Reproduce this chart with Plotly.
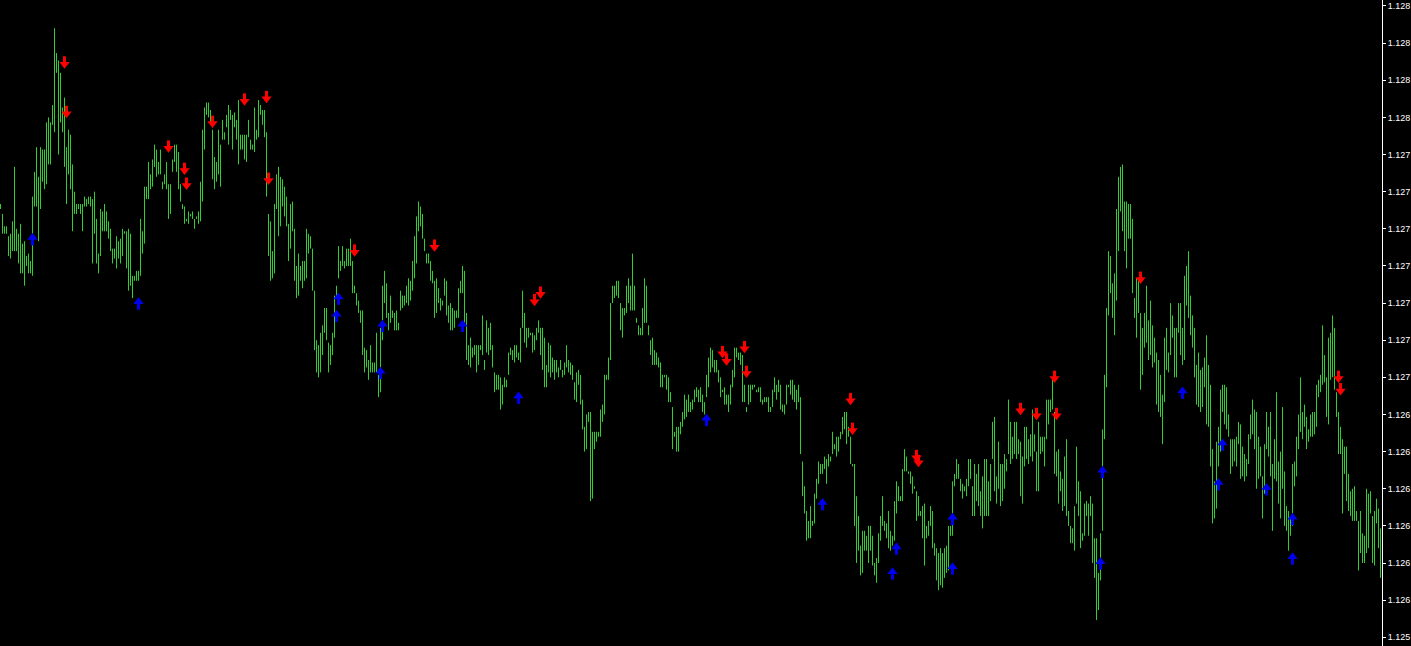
import plotly.graph_objects as go

# price = BASE + pts * POINT  (in points above 1.12500)
BASE = 1.125
POINT = 0.00001

HIGH_PTS = [
    220, 216, 211, 211, 207, 208, 213, 235, 210, 208, 212, 204, 205, 199, 200, 197, 223, 233, 243, 231,
    243, 242, 242, 253, 255, 253, 260, 291, 281, 278, 273, 259, 263, 243, 250, 248, 236, 225, 220, 220,
    220, 220, 223, 222, 223, 223, 222, 225, 214, 200, 218, 217, 220, 217, 213, 210, 202, 202, 207, 205,
    206, 210, 209, 209, 210, 208, 191, 191, 193, 193, 214, 209, 227, 227, 237, 232, 238, 244, 242, 237,
    242, 229, 232, 237, 228, 228, 238, 244, 244, 241, 228, 220, 219, 214, 217, 216, 217, 214, 215, 217,
    229, 250, 259, 261, 261, 258, 250, 239, 237, 250, 244, 254, 249, 256, 260, 258, 256, 257, 254, 262,
    248, 248, 248, 248, 254, 246, 244, 259, 250, 262, 260, 258, 258, 249, 216, 213, 201, 220, 232, 235,
    231, 230, 227, 223, 212, 220, 221, 210, 195, 200, 195, 197, 197, 210, 208, 207, 202, 185, 165, 163,
    168, 171, 178, 178, 164, 163, 168, 183, 187, 203, 197, 203, 197, 202, 202, 206, 197, 187, 184, 181,
    177, 177, 162, 161, 157, 163, 156, 156, 168, 151, 170, 187, 193, 188, 176, 183, 177, 176, 177, 172,
    185, 183, 183, 187, 190, 189, 197, 207, 215, 221, 219, 216, 206, 200, 200, 197, 193, 189, 190, 186,
    182, 181, 190, 189, 179, 180, 178, 177, 177, 186, 189, 195, 193, 176, 163, 166, 162, 163, 163, 163,
    163, 175, 157, 173, 170, 172, 163, 152, 151, 151, 150, 147, 150, 149, 160, 162, 161, 163, 163, 160,
    170, 185, 176, 170, 170, 168, 168, 167, 170, 173, 170, 170, 166, 155, 164, 163, 158, 157, 157, 154,
    157, 153, 156, 163, 157, 156, 155, 148, 152, 153, 151, 141, 130, 135, 136, 136, 128, 128, 128, 128,
    137, 139, 151, 151, 158, 180, 187, 187, 189, 189, 180, 178, 178, 187, 190, 187, 200, 187, 174, 171,
    170, 178, 190, 187, 171, 165, 166, 161, 160, 158, 156, 151, 151, 151, 150, 144, 138, 128, 130, 130,
    132, 136, 143, 141, 143, 140, 141, 145, 146, 145, 146, 143, 140, 151, 158, 162, 161, 157, 157, 153,
    150, 145, 146, 143, 143, 147, 153, 162, 162, 160, 160, 159, 147, 138, 147, 147, 147, 147, 145, 146,
    146, 141, 142, 142, 142, 138, 145, 150, 147, 149, 147, 139, 139, 147, 147, 149, 149, 147, 145, 147,
    142, 116, 106, 96, 92, 98, 92, 103, 109, 116, 115, 115, 118, 117, 119, 118, 128, 123, 126, 126,
    128, 134, 136, 136, 130, 126, 115, 115, 102, 94, 82, 88, 88, 86, 90, 90, 86, 75, 77, 87,
    94, 102, 92, 91, 96, 88, 86, 100, 108, 106, 102, 113, 121, 118, 112, 112, 110, 106, 104, 102,
    96, 98, 99, 90, 92, 98, 96, 83, 81, 79, 81, 79, 81, 82, 90, 90, 108, 111, 117, 115,
    109, 107, 106, 109, 117, 117, 106, 115, 111, 115, 104, 110, 117, 117, 108, 115, 132, 134, 110, 124,
    115, 115, 119, 117, 141, 132, 126, 132, 132, 125, 124, 118, 130, 130, 125, 127, 137, 127, 120, 132,
    126, 126, 126, 141, 141, 141, 150, 136, 120, 121, 112, 109, 118, 125, 96, 90, 89, 98, 122, 108,
    104, 87, 99, 100, 99, 102, 99, 85, 85, 71, 87, 129, 151, 178, 201, 199, 188, 192, 218, 231,
    235, 236, 221, 221, 220, 220, 214, 182, 190, 189, 176, 170, 176, 187, 173, 181, 171, 166, 160, 157,
    151, 143, 166, 170, 160, 180, 175, 170, 170, 180, 180, 170, 191, 195, 201, 183, 175, 170, 155, 160,
    153, 154, 158, 167, 155, 147, 121, 108, 124, 130, 145, 147, 147, 146, 135, 125, 125, 125, 126, 132,
    131, 122, 119, 117, 127, 135, 141, 137, 136, 126, 122, 110, 123, 136, 130, 136, 115, 125, 144, 116,
    120, 138, 112, 98, 96, 93, 115, 116, 126, 135, 150, 136, 139, 134, 129, 135, 136, 136, 147, 149,
    151, 171, 159, 150, 166, 168, 175, 170, 144, 136, 130, 125, 122, 122, 111, 104, 105, 106, 96, 92,
    96, 87, 86, 105, 103, 104, 94, 96, 101, 97, 89,
]

LOW_PTS = [
    218, 208, 208, 208, 199, 198, 201, 201, 201, 196, 192, 192, 187, 195, 192, 192, 191, 219, 219, 205,
    218, 229, 226, 228, 236, 236, 252, 249, 273, 240, 253, 249, 235, 220, 232, 226, 209, 216, 216, 218,
    216, 209, 219, 219, 220, 219, 196, 208, 196, 192, 199, 209, 209, 209, 206, 201, 196, 198, 194, 198,
    196, 199, 208, 194, 185, 187, 182, 189, 189, 189, 191, 200, 204, 222, 222, 226, 227, 235, 231, 232,
    232, 226, 228, 226, 214, 216, 233, 237, 233, 226, 221, 218, 212, 213, 212, 215, 214, 210, 214, 212,
    213, 221, 242, 256, 255, 253, 230, 226, 229, 232, 227, 246, 246, 251, 244, 254, 242, 251, 246, 236,
    242, 242, 238, 237, 247, 242, 242, 241, 246, 247, 256, 252, 247, 223, 199, 189, 190, 192, 218, 207,
    211, 219, 215, 211, 197, 202, 209, 189, 182, 183, 189, 186, 189, 190, 200, 202, 185, 161, 152, 150,
    152, 159, 168, 165, 152, 155, 159, 166, 182, 190, 193, 195, 194, 195, 195, 195, 184, 184, 179, 176,
    172, 159, 152, 154, 149, 152, 152, 152, 152, 142, 144, 165, 180, 174, 169, 172, 174, 169, 169, 169,
    177, 178, 179, 180, 179, 181, 185, 190, 196, 209, 211, 206, 201, 196, 196, 189, 188, 174, 176, 180,
    177, 179, 183, 175, 172, 169, 169, 170, 174, 174, 184, 184, 172, 157, 155, 154, 158, 159, 152, 155,
    161, 159, 153, 160, 159, 161, 154, 144, 145, 145, 137, 139, 146, 146, 151, 159, 157, 156, 158, 157,
    156, 170, 164, 162, 166, 167, 160, 161, 165, 168, 159, 153, 146, 146, 152, 150, 152, 149, 152, 150,
    153, 150, 151, 154, 152, 151, 149, 141, 140, 147, 139, 129, 120, 121, 132, 100, 101, 121, 124, 126,
    126, 132, 135, 149, 149, 157, 180, 182, 183, 182, 169, 166, 175, 176, 180, 177, 177, 177, 172, 167,
    167, 167, 172, 172, 167, 159, 155, 155, 155, 154, 146, 146, 150, 145, 140, 140, 121, 126, 120, 120,
    127, 130, 133, 134, 136, 136, 137, 140, 142, 140, 140, 136, 135, 142, 146, 152, 154, 152, 152, 148,
    142, 144, 139, 139, 136, 139, 146, 150, 158, 157, 155, 140, 140, 136, 139, 140, 145, 146, 144, 144,
    140, 139, 140, 140, 136, 136, 138, 144, 141, 144, 137, 136, 135, 139, 146, 143, 141, 140, 137, 140,
    119, 102, 95, 84, 85, 85, 90, 91, 101, 107, 111, 111, 113, 107, 114, 116, 119, 121, 118, 120,
    125, 127, 129, 123, 126, 115, 114, 90, 75, 80, 70, 71, 80, 80, 75, 80, 74, 70, 67, 75,
    84, 90, 88, 85, 81, 80, 82, 84, 95, 100, 100, 100, 112, 112, 111, 107, 103, 105, 92, 94,
    94, 85, 74, 85, 86, 90, 81, 78, 68, 64, 66, 65, 69, 71, 72, 86, 86, 106, 109, 109,
    104, 101, 104, 102, 106, 109, 94, 94, 100, 98, 94, 89, 94, 94, 94, 100, 117, 104, 99, 105,
    98, 100, 105, 112, 119, 115, 117, 119, 117, 119, 102, 99, 114, 117, 115, 118, 116, 120, 104, 104,
    119, 120, 114, 125, 131, 136, 137, 111, 110, 99, 104, 96, 98, 94, 90, 83, 83, 80, 99, 94,
    81, 84, 86, 94, 86, 94, 75, 69, 52, 56, 68, 88, 125, 146, 175, 184, 174, 167, 181, 201,
    217, 209, 201, 194, 206, 206, 184, 174, 166, 176, 145, 151, 162, 164, 157, 159, 154, 156, 139, 136,
    134, 123, 140, 153, 152, 159, 166, 150, 150, 168, 159, 155, 157, 179, 174, 167, 162, 150, 139, 138,
    136, 138, 146, 131, 130, 114, 91, 93, 97, 114, 120, 136, 131, 129, 126, 111, 114, 116, 114, 123,
    109, 110, 108, 110, 115, 125, 127, 121, 105, 109, 110, 93, 103, 121, 118, 110, 88, 109, 108, 99,
    93, 105, 90, 88, 80, 86, 90, 106, 110, 121, 128, 125, 130, 121, 124, 126, 126, 127, 130, 142,
    144, 147, 148, 134, 131, 149, 150, 145, 134, 119, 119, 95, 111, 100, 96, 94, 92, 92, 92, 72,
    79, 75, 75, 79, 81, 95, 75, 74, 91, 81, 69,
]

# signal arrows: bar index and price (points above BASE)
SELL_BARS = [32, 33, 84, 92, 93, 106, 122, 133, 134, 177, 217, 267, 270, 361, 363, 372, 373, 425, 426,
             458, 459, 510, 518, 527, 528, 570, 669, 670]
SELL_PTS = [277, 257, 243, 234, 228, 253, 262, 263, 230, 201, 203, 181, 184, 160, 157, 162, 152, 141, 129,
            118, 116, 137, 135, 150, 135, 190, 150, 145]
BUY_BARS = [16, 69, 169, 168, 191, 190, 231, 259, 353, 411, 448, 446, 476, 476, 551, 550, 591, 611, 609,
            633, 646, 646]
BUY_PTS = [206, 180, 182, 175, 171, 152, 171, 142, 133, 99, 81, 71, 93, 73, 112, 75, 144, 123, 107,
           105, 93, 77]

TICK_VALS = [1.12800, 1.12785, 1.12770, 1.12755, 1.12740, 1.12725, 1.12710, 1.12695, 1.12680,
             1.12665, 1.12650, 1.12635, 1.12620, 1.12605, 1.12590, 1.12575, 1.12560, 1.12545]
TICK_TEXT = ["1.128"] * 4 + ["1.127"] * 7 + ["1.126"] * 6 + ["1.125"]

W, H = 1411, 646
PLOT_W = 1382
Y_RANGE = [1.1254148, 1.1280242]
PX = (Y_RANGE[1] - Y_RANGE[0]) / H  # price per pixel, used to shape the arrow glyphs

BAR_COLOR = "#32CD32"
SELL_COLOR = "#FF0000"
BUY_COLOR = "#0000F0"


def price(pts):
    return BASE + pts * POINT


# high-low bars as one broken line
bx, by = [], []
for i, (h, l) in enumerate(zip(HIGH_PTS, LOW_PTS)):
    bx += [i, i, None]
    by += [price(l), price(h), None]

fig = go.Figure()
fig.add_trace(go.Scatter(
    x=bx, y=by, mode="lines",
    line=dict(color=BAR_COLOR, width=1),
    hoverinfo="skip", showlegend=False,
))

sell_p = [price(v) for v in SELL_PTS]
buy_p = [price(v) for v in BUY_PTS]

# down arrows: shaft above, head below
fig.add_trace(go.Scatter(
    x=SELL_BARS, y=[p + 2.5 * PX for p in sell_p], mode="markers",
    marker=dict(symbol="line-ns", size=6, line=dict(color=SELL_COLOR, width=3)),
    hoverinfo="skip", showlegend=False,
))
fig.add_trace(go.Scatter(
    x=SELL_BARS, y=[p - 1.2 * PX for p in sell_p], mode="markers",
    marker=dict(symbol="triangle-down", size=9, color=SELL_COLOR, line=dict(width=0)),
    hoverinfo="skip", showlegend=False,
))

# up arrows: head above, shaft below
fig.add_trace(go.Scatter(
    x=BUY_BARS, y=[p - 2.5 * PX for p in buy_p], mode="markers",
    marker=dict(symbol="line-ns", size=6, line=dict(color=BUY_COLOR, width=3)),
    hoverinfo="skip", showlegend=False,
))
fig.add_trace(go.Scatter(
    x=BUY_BARS, y=[p + 1.2 * PX for p in buy_p], mode="markers",
    marker=dict(symbol="triangle-up", size=9, color=BUY_COLOR, line=dict(width=0)),
    hoverinfo="skip", showlegend=False,
))

n = len(HIGH_PTS)
fig.update_layout(
    width=W, height=H,
    autosize=False,
    paper_bgcolor="black",
    plot_bgcolor="black",
    margin=dict(l=0, r=W - PLOT_W, t=0, b=0, pad=0),
    showlegend=False,
    xaxis=dict(
        range=[-0.25, n - 0.25],
        visible=False,
        showgrid=False,
        zeroline=False,
        fixedrange=True,
        automargin=False,
    ),
    yaxis=dict(
        side="right",
        range=Y_RANGE,
        tickvals=TICK_VALS,
        ticktext=TICK_TEXT,
        ticks="outside",
        ticklen=3,
        tickwidth=1,
        tickcolor="white",
        showline=True,
        linecolor="white",
        linewidth=1,
        showgrid=False,
        zeroline=False,
        fixedrange=True,
        automargin=False,
        tickfont=dict(family="Liberation Sans, Arial, sans-serif", size=9, color="white"),
    ),
)

fig.write_html("out.html", config={"displayModeBar": False},
               post_script="document.body.style.margin='0';document.body.style.overflow='hidden';")
